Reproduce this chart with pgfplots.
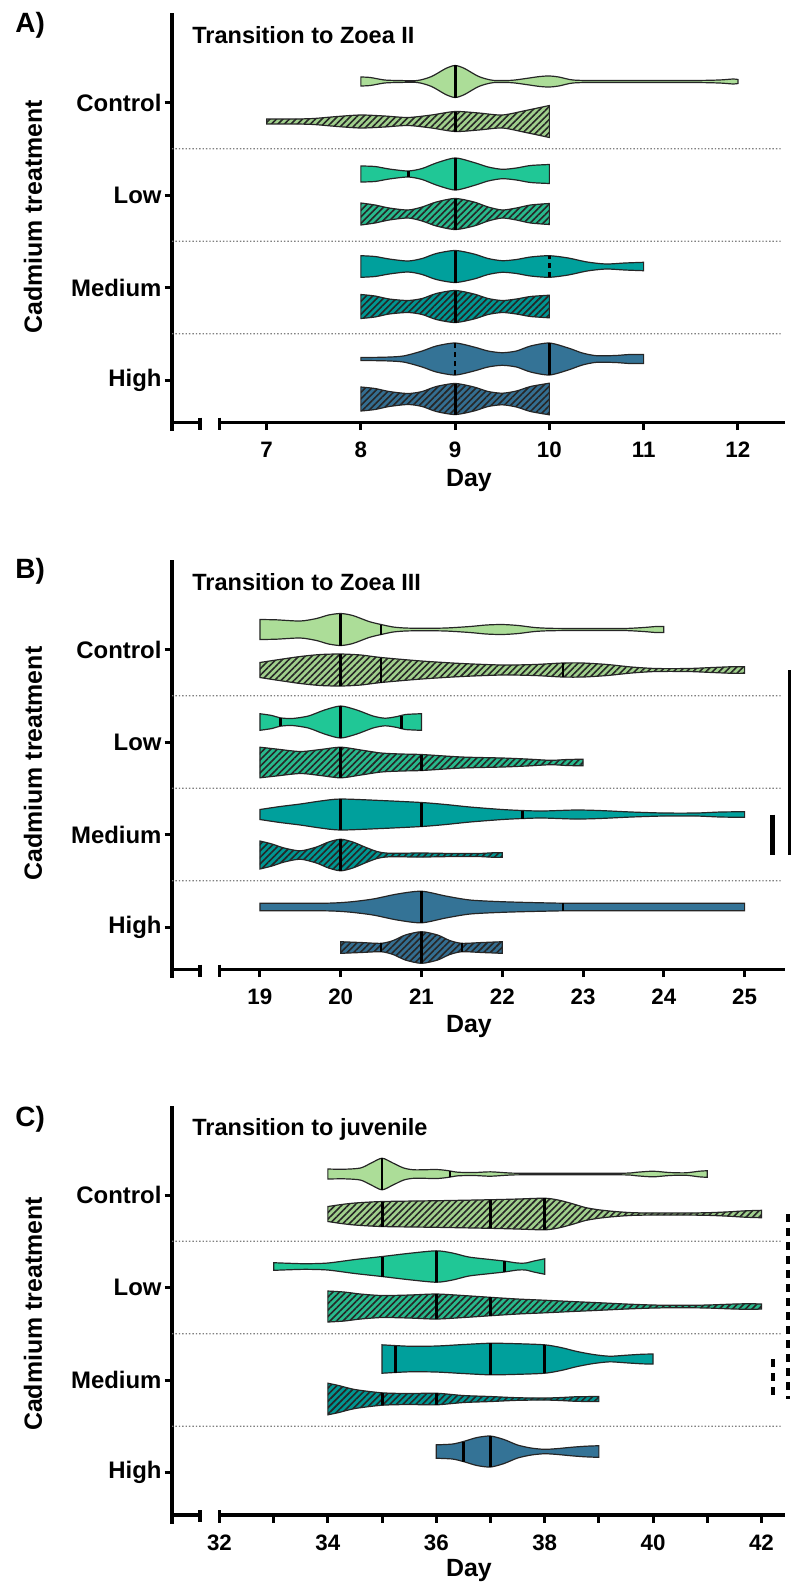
\documentclass[border=0pt]{standalone}
\usepackage{fontspec}
\setmainfont{Liberation Sans}
\usepackage{pgfplots}
\pgfplotsset{compat=1.18}
\usepackage{pgfplotstable}
\usepgfplotslibrary{fillbetween}
\usetikzlibrary{patterns.meta}

\definecolor{cC}{RGB}{172,221,152}
\definecolor{cCh}{RGB}{160,207,140}
\definecolor{cL}{RGB}{32,199,150}
\definecolor{cLh}{RGB}{40,185,140}
\definecolor{cM}{RGB}{0,160,156}
\definecolor{cMh}{RGB}{0,150,146}
\definecolor{cH}{RGB}{52,115,150}
\definecolor{cHh}{RGB}{52,110,145}

% ---- data: x = day, w = half width of the violin ----
% Panel A
\pgfplotstableread[row sep=\\]{x w\\ 8 4.5\\ 8.1 4\\ 8.25 1.5\\ 8.4 1\\ 8.6 1\\ 8.75 5\\ 8.9 13\\ 9 16\\ 9.1 13\\ 9.25 5\\ 9.4 1.2\\ 9.6 1.2\\ 9.75 3\\ 9.9 5\\ 10 5.5\\ 10.1 4.5\\ 10.25 1.5\\ 10.5 1\\ 11.5 1\\ 11.8 1.5\\ 11.95 2.5\\ 12 2\\}\aCt
\pgfplotstableread[row sep=\\]{x w\\ 7 2.5\\ 7.3 2.5\\ 7.5 3\\ 7.75 5\\ 8 6.5\\ 8.25 5.5\\ 8.5 4\\ 8.75 6.5\\ 9 10\\ 9.25 8.5\\ 9.5 6.5\\ 9.75 11\\ 10 16\\}\aCb
\pgfplotstableread[row sep=\\]{x w\\ 8 8\\ 8.15 7.5\\ 8.3 5\\ 8.5 3\\ 8.65 5.5\\ 8.8 11\\ 9 16\\ 9.2 11.5\\ 9.35 7\\ 9.5 4.7\\ 9.65 6\\ 9.8 8.5\\ 10 9.5\\}\aLt
\pgfplotstableread[row sep=\\]{x w\\ 8 11\\ 8.15 9\\ 8.3 6\\ 8.5 4\\ 8.65 7\\ 8.8 12\\ 9 15.5\\ 9.2 12\\ 9.35 7\\ 9.5 4\\ 9.65 6\\ 9.8 9\\ 10 10.5\\}\aLb
\pgfplotstableread[row sep=\\]{x w\\ 8 10.8\\ 8.15 10\\ 8.3 7.5\\ 8.5 5.5\\ 8.65 8\\ 8.8 13\\ 9 16\\ 9.2 12.5\\ 9.35 8\\ 9.5 5.8\\ 9.65 7\\ 9.8 9.5\\ 10 10.8\\ 10.2 8.5\\ 10.4 4.5\\ 10.6 2.5\\ 10.8 3.5\\ 11 4.2\\}\aMt
\pgfplotstableread[row sep=\\]{x w\\ 8 12\\ 8.15 10.5\\ 8.3 7.5\\ 8.5 6\\ 8.65 8\\ 8.8 13\\ 9 16\\ 9.2 12.5\\ 9.35 8\\ 9.5 6\\ 9.65 7.5\\ 9.8 10\\ 10 11.3\\}\aMb
\pgfplotstableread[row sep=\\]{x w\\ 8 1.5\\ 8.25 1.8\\ 8.45 3\\ 8.65 8\\ 8.8 13\\ 9 16\\ 9.2 12\\ 9.35 8\\ 9.5 6.3\\ 9.65 8\\ 9.8 13\\ 10 16\\ 10.2 11\\ 10.35 6\\ 10.5 3.3\\ 10.7 3.5\\ 10.85 4.5\\ 11 4.5\\}\aHt
\pgfplotstableread[row sep=\\]{x w\\ 8 12\\ 8.15 10.5\\ 8.3 7.5\\ 8.5 5.5\\ 8.65 7.5\\ 8.8 12.5\\ 9 15.5\\ 9.2 12\\ 9.35 7.5\\ 9.5 5.8\\ 9.65 8\\ 9.8 12.5\\ 10 15.8\\}\aHb
% Panel B
\pgfplotstableread[row sep=\\]{x w\\ 19 10\\ 19.2 9.7\\ 19.5 8.5\\ 19.7 11\\ 19.85 14.5\\ 20 16\\ 20.15 14\\ 20.35 8\\ 20.5 5\\ 20.65 2.5\\ 20.8 1.5\\ 21 1.2\\ 21.3 1.5\\ 21.6 3\\ 21.8 4.5\\ 22 5\\ 22.2 4\\ 22.4 2\\ 22.6 1.2\\ 23 1\\ 23.5 1\\ 23.75 2\\ 23.9 3\\ 24 3\\}\bCt
\pgfplotstableread[row sep=\\]{x w\\ 19 7.5\\ 19.2 10\\ 19.5 13.5\\ 19.75 15.5\\ 20 16\\ 20.25 15\\ 20.5 12.5\\ 21 9\\ 21.5 6.5\\ 22 5\\ 22.4 5.5\\ 22.75 7\\ 23 7\\ 23.3 5.5\\ 23.6 3\\ 23.9 1.5\\ 24.3 1.5\\ 24.6 2.5\\ 24.85 3.3\\ 25 3.3\\}\bCb
\pgfplotstableread[row sep=\\]{x w\\ 19 8.3\\ 19.15 6.5\\ 19.25 4.2\\ 19.4 3.5\\ 19.6 6\\ 19.8 12\\ 20 16\\ 20.2 12\\ 20.4 6\\ 20.55 3.8\\ 20.7 5.5\\ 20.8 7.5\\ 21 8.3\\}\bLt
\pgfplotstableread[row sep=\\]{x w\\ 19 15.3\\ 19.2 13.5\\ 19.5 11\\ 19.75 13\\ 20 15.3\\ 20.25 12.5\\ 20.5 9.5\\ 20.75 8.5\\ 21 8\\ 21.5 5.5\\ 22 4.5\\ 22.3 3.5\\ 22.6 2.2\\ 22.8 3\\ 23 3.3\\}\bLb
\pgfplotstableread[row sep=\\]{x w\\ 19 5\\ 19.25 8\\ 19.5 10.5\\ 19.75 13.5\\ 20 15.5\\ 20.5 14\\ 21 12\\ 21.3 10\\ 21.6 7.5\\ 22 5\\ 22.25 4\\ 22.5 3.5\\ 22.9 4.5\\ 23.2 4\\ 23.6 2.5\\ 24 1.5\\ 24.4 1.5\\ 24.7 2.5\\ 25 2.8\\}\bMt
\pgfplotstableread[row sep=\\]{x w\\ 19 14\\ 19.15 11\\ 19.3 7\\ 19.5 4.2\\ 19.7 8\\ 19.85 13\\ 20 15.8\\ 20.15 13\\ 20.3 8\\ 20.45 3.5\\ 20.6 1.8\\ 21 2\\ 21.4 1.5\\ 21.7 1.5\\ 21.9 2.3\\ 22 2.3\\}\bMb
\pgfplotstableread[row sep=\\]{x w\\ 19 3.7\\ 19.8 3.8\\ 20.1 5\\ 20.4 8\\ 20.7 13\\ 21 15.8\\ 21.3 11\\ 21.6 7\\ 22 5.3\\ 22.5 4.2\\ 23 3.7\\ 25 3.7\\}\bHt
\pgfplotstableread[row sep=\\]{x w\\ 20 5.8\\ 20.25 5\\ 20.5 4.2\\ 20.65 7\\ 20.8 12.5\\ 21 15.8\\ 21.2 12.5\\ 21.35 7\\ 21.5 4.2\\ 21.75 5\\ 22 5.8\\}\bHb
% Panel C
\pgfplotstableread[row sep=\\]{x w\\ 34 5\\ 34.3 4.8\\ 34.6 6\\ 34.8 11\\ 35 15.8\\ 35.2 11\\ 35.4 6\\ 35.6 4.2\\ 36 4.5\\ 36.2 3.5\\ 36.4 1.8\\ 36.7 1.5\\ 37 2.2\\ 37.3 1.2\\ 37.6 0.8\\ 39.4 0.8\\ 39.7 1.8\\ 40 2.8\\ 40.3 1.5\\ 40.6 1.2\\ 40.85 2.8\\ 41 3.3\\}\cCt
\pgfplotstableread[row sep=\\]{x w\\ 34 7.5\\ 34.25 9.5\\ 34.5 11\\ 35 12.5\\ 36 13.3\\ 37 14.3\\ 37.5 15\\ 38 15.8\\ 38.25 14\\ 38.5 10.5\\ 38.75 6.5\\ 39 4.2\\ 39.3 2.5\\ 39.7 1.2\\ 40.5 1\\ 41 1.3\\ 41.4 2.2\\ 41.7 3.2\\ 42 3.7\\}\cCb
\pgfplotstableread[row sep=\\]{x w\\ 33 3.8\\ 33.3 3.2\\ 33.6 2.8\\ 34 3.5\\ 34.5 7\\ 35 10\\ 35.5 13.2\\ 36 15.7\\ 36.3 13.5\\ 36.6 9.5\\ 37 7\\ 37.25 5.5\\ 37.5 3.5\\ 37.65 3.5\\ 37.8 5.5\\ 38 7.7\\}\cLt
\pgfplotstableread[row sep=\\]{x w\\ 34 15.5\\ 34.3 14.5\\ 34.6 12.5\\ 35 11\\ 35.5 11.5\\ 36 12.5\\ 36.5 11\\ 37 9.2\\ 37.5 7.5\\ 38 6.3\\ 38.5 5\\ 39 3.8\\ 39.5 2.5\\ 40 1.5\\ 40.5 1.2\\ 41 1.5\\ 41.5 2.5\\ 41.8 2.8\\ 42 2.5\\}\cLb
\pgfplotstableread[row sep=\\]{x w\\ 35 14.2\\ 35.5 12.8\\ 36 13\\ 36.5 14.5\\ 37 15.8\\ 37.5 15.3\\ 38 14.2\\ 38.3 11.5\\ 38.6 7.5\\ 38.9 4.5\\ 39.2 2.8\\ 39.5 3.8\\ 39.8 4.8\\ 40 5\\}\cMt
\pgfplotstableread[row sep=\\]{x w\\ 34 15.8\\ 34.2 13.5\\ 34.5 9.5\\ 35 6.2\\ 35.5 5.5\\ 36 5.8\\ 36.5 3.5\\ 37 2.5\\ 37.5 1.3\\ 38 1\\ 38.3 1.5\\ 38.6 2.3\\ 39 2.5\\}\cMb
\pgfplotstableread[row sep=\\]{x w\\ 36 6.7\\ 36.3 7.5\\ 36.5 10\\ 36.75 14\\ 37 15.5\\ 37.25 12\\ 37.5 6.5\\ 37.75 3.5\\ 38 2.2\\ 38.25 3\\ 38.5 4.3\\ 38.75 5.3\\ 39 5.8\\}\cHt

\tikzset{
  hatch/.style={postaction={pattern={Lines[angle=45,distance=2.3bp,line width=0.8bp]},pattern color=black!85}},
  vmed/.style={line width=1.5bp},
  vq/.style={line width=1.1bp},
  vdash/.style={line width=1.2bp, dash pattern=on 2.5bp off 2bp},
}

% #1 table, #2 id, #3 centre, #4 colour, #5 extra style
\newcommand{\violin}[5]{%
  \addplot[name path=#2t, draw=none, smooth, tension=0.45, forget plot] table[x=x, y expr={#3+\thisrow{w}}] {#1};
  \addplot[name path=#2b, draw=none, smooth, tension=0.45, forget plot] table[x=x, y expr={#3-\thisrow{w}}] {#1};
  \addplot[fill=#4, draw=black!85, line width=0.6bp, forget plot, #5] fill between[of=#2t and #2b];
}
% vertical median / quartile line: #1 day, #2 centre, #3 half width, #4 style
\newcommand{\vl}[4]{%
  \addplot[black, forget plot, #4] table[row sep=\\, x=x, y expr={#2+(\thisrow{d})}] {x d\\ #1 -#3\\ #1 #3\\};
}
% broken axis: #1 xmin, #2 end of left piece, #3 start of right piece, #4 xmax
\newcommand{\axisdeco}[4]{%
  \draw[line width=1.6bp, line cap=rect] (axis cs:#1,407.5) -- (axis cs:#1,-7);
  \draw[line width=1.6bp] (axis cs:#1,0) -- (axis cs:#2,0);
  \draw[line width=1.6bp] (axis cs:#2,5) -- (axis cs:#2,-7);
  \draw[line width=1.6bp] (axis cs:#3,5) -- (axis cs:#3,-7);
  \draw[line width=1.6bp] (axis cs:#3,0) -- (axis cs:#4,0);
  \draw[gray, densely dotted, line width=0.7bp] (axis cs:#1,88.75) -- (rel axis cs:0.995,0.2178);
  \draw[gray, densely dotted, line width=0.7bp] (axis cs:#1,181.25) -- (rel axis cs:0.995,0.4448);
  \draw[gray, densely dotted, line width=0.7bp] (axis cs:#1,273.75) -- (rel axis cs:0.995,0.6718);
}

\pgfplotsset{panel/.style={
  scale only axis, width=306.5bp, height=203.75bp, anchor=north west,
  ymin=0, ymax=407.5, clip=false,
  axis x line*=bottom, axis y line*=left, axis line style={draw=none},
  ytick={42.5,135,227.5,320}, yticklabels={High,Medium,Low,Control},
  tick align=outside, major tick length=3.75bp, minor tick length=3.75bp,
  tick style={black, line width=1.5bp},
  yticklabel style={font=\bfseries\fontsize{12}{13}\selectfont, xshift=2bp},
  xticklabel style={font=\bfseries\fontsize{11.2}{12}\selectfont, yshift=-2.5bp},
  /pgf/number format/assume math mode=true,
  no markers,
}}

\begin{document}
\begin{tikzpicture}[x=1bp,y=1bp]
\path (0,0) rectangle (400,-793);

% ================= Panel A =================
\begin{axis}[panel, at={(86bp,-7.5bp)}, xmin=5.996, xmax=12.5, xtick={7,8,9,10,11,12}]
\axisdeco{5.996}{6.293}{6.5}{12.5}
\violin{\aCt}{aCt}{341}{cC}{}
\violin{\aCb}{aCb}{301}{cCh}{hatch}
\violin{\aLt}{aLt}{248.5}{cL}{}
\violin{\aLb}{aLb}{208.5}{cLh}{hatch}
\violin{\aMt}{aMt}{156}{cM}{}
\violin{\aMb}{aMb}{116}{cMh}{hatch}
\violin{\aHt}{aHt}{63.5}{cH}{}
\violin{\aHb}{aHb}{23.5}{cHh}{hatch}
\vl{9}{341}{16}{vmed}
\vl{9}{301}{10}{vmed}
\vl{9}{248.5}{16}{vmed}
\vl{8.5}{248.5}{3}{vmed}
\vl{9}{208.5}{15.5}{vmed}
\vl{9}{156}{16}{vmed}
\vl{10}{156}{10.8}{vdash}
\vl{9}{116}{16}{vmed}
\vl{9}{63.5}{16}{vdash}
\vl{10}{63.5}{16}{vmed}
\vl{9}{23.5}{15.5}{vmed}
\end{axis}

% ================= Panel B =================
\begin{axis}[panel, at={(86bp,-281bp)}, xmin=17.912, xmax=25.5, xtick={19,20,21,22,23,24,25}]
\axisdeco{17.912}{18.259}{18.5}{25.5}
\violin{\bCt}{bCt}{340}{cC}{}
\violin{\bCb}{bCb}{299.5}{cCh}{hatch}
\violin{\bLt}{bLt}{247.5}{cL}{}
\violin{\bLb}{bLb}{207}{cLh}{hatch}
\violin{\bMt}{bMt}{155}{cM}{}
\violin{\bMb}{bMb}{114.5}{cMh}{hatch}
\violin{\bHt}{bHt}{62.5}{cH}{}
\violin{\bHb}{bHb}{22}{cHh}{hatch}
\vl{20}{340}{16}{vmed}
\vl{20.5}{340}{5}{vq}
\vl{20}{299.5}{16}{vmed}
\vl{20.5}{299.5}{12.5}{vq}
\vl{22.75}{299.5}{7}{vq}
\vl{20}{247.5}{16}{vmed}
\vl{19.25}{247.5}{4.2}{vmed}
\vl{20.75}{247.5}{6.5}{vmed}
\vl{20}{207}{15.3}{vmed}
\vl{21}{207}{8}{vq}
\vl{20}{155}{15.5}{vmed}
\vl{21}{155}{12}{vq}
\vl{22.25}{155}{4}{vq}
\vl{20}{114.5}{15.8}{vmed}
\vl{21}{62.5}{15.8}{vmed}
\vl{22.75}{62.5}{4}{vq}
\vl{21}{22}{15.8}{vmed}
\vl{20.5}{22}{4.2}{vq}
\vl{21.5}{22}{4.2}{vq}
\draw[line width=1.5bp] (axis cs:25.55,299.5) -- (axis cs:25.55,114.5);
\draw[line width=2.5bp] (axis cs:25.35,155) -- (axis cs:25.35,114.5);
\end{axis}

% ================= Panel C =================
\begin{axis}[panel, at={(86bp,-553.75bp)}, xmin=31.124, xmax=42.434,
  xtick={32,34,36,38,40,42}, minor xtick={33,35,37,39,41}]
\axisdeco{31.124}{31.641}{32}{42.434}
\violin{\cCt}{cCt}{341}{cC}{}
\violin{\cCb}{cCb}{301}{cCh}{hatch}
\violin{\cLt}{cLt}{248.5}{cL}{}
\violin{\cLb}{cLb}{208.5}{cLh}{hatch}
\violin{\cMt}{cMt}{156}{cM}{}
\violin{\cMb}{cMb}{116}{cMh}{hatch}
\violin{\cHt}{cHt}{63.5}{cH}{}
\vl{35}{341}{15.8}{vq}
\vl{36.25}{341}{3.1}{vq}
\vl{35}{301}{12.5}{vmed}
\vl{37}{301}{14.3}{vmed}
\vl{38}{301}{15.8}{vmed}
\vl{35}{248.5}{10}{vmed}
\vl{36}{248.5}{15.7}{vmed}
\vl{37.25}{248.5}{5.5}{vmed}
\vl{36}{208.5}{12.5}{vmed}
\vl{37}{208.5}{9.2}{vmed}
\vl{35.25}{156}{13.5}{vmed}
\vl{37}{156}{15.8}{vmed}
\vl{38}{156}{14.2}{vmed}
\vl{35}{116}{6.2}{vmed}
\vl{36}{116}{5.8}{vmed}
\vl{36.5}{63.5}{10}{vmed}
\vl{37}{63.5}{15.5}{vmed}
\draw[line width=1.7bp, dash pattern=on 4bp off 3bp] (axis cs:42.49,301) -- (axis cs:42.49,116);
\draw[line width=2bp, dash pattern=on 4bp off 3bp] (axis cs:42.21,156) -- (axis cs:42.21,116);
\end{axis}

% ================= text =================
\tikzset{lab/.style={font=\bfseries\fontsize{14}{16}\selectfont, anchor=base west, inner sep=0pt},
         ttl/.style={font=\bfseries\fontsize{11.8}{14}\selectfont, anchor=base west, inner sep=0pt},
         yl/.style={font=\bfseries\fontsize{12.5}{14}\selectfont, rotate=90, inner sep=0pt},
         dl/.style={font=\bfseries\fontsize{12.5}{14}\selectfont, anchor=base, inner sep=0pt}}
\node[lab] at (7.5,-16.3) {A)};
\node[lab] at (7.5,-289) {B)};
\node[lab] at (7.5,-563) {C)};
\node[ttl] at (96,-21.7) {Transition to Zoea II};
\node[ttl] at (96,-295.2) {Transition to Zoea III};
\node[ttl] at (96,-567.6) {Transition to juvenile};
\node[yl] at (16.5,-108.4) {Cadmium treatment};
\node[yl] at (16.5,-381.8) {Cadmium treatment};
\node[yl] at (16.5,-657) {Cadmium treatment};
\node[dl] at (234.5,-243) {Day};
\node[dl] at (234.5,-516.4) {Day};
\node[dl] at (234.5,-788) {Day};
\pgfresetboundingbox
\path[use as bounding box] (0,0) rectangle (400,-793);
\end{tikzpicture}
\end{document}
